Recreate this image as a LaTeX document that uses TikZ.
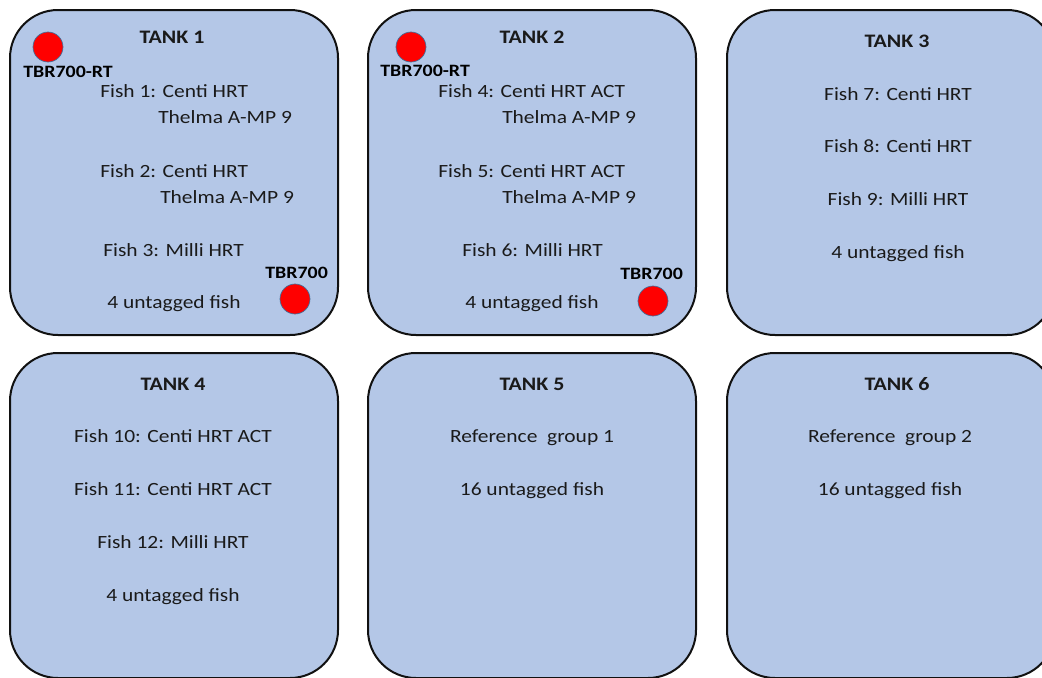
\documentclass[tikz,border=0pt]{standalone}
\usepackage{fontspec}
\setmainfont{Carlito}[FakeStretch=1.15]
\definecolor{tankfill}{HTML}{B4C7E7}
\definecolor{tankline}{HTML}{111111}
\definecolor{txt}{HTML}{1A1A1A}
\definecolor{rxline}{HTML}{41719C}
\tikzset{
  tank/.style={draw=tankline, line width=1.5pt, fill=tankfill, rounded corners=36pt,
    minimum width=246pt, minimum height=243.75pt, inner sep=0pt},
  title/.style={font=\fontsize{14.3}{16}\selectfont\bfseries, text=txt, anchor=base, inner sep=0pt},
  line/.style={font=\fontsize{14}{16}\selectfont, text=txt, anchor=base west, inner sep=0pt},
  cline/.style={font=\fontsize{14}{16}\selectfont, text=txt, anchor=base, inner sep=0pt},
  rxlabel/.style={font=\fontsize{13}{14}\selectfont\bfseries, text=black, anchor=base west, inner sep=0pt},
  receiver/.style={circle, fill=red, draw=rxline, line width=0.5pt, minimum size=22.5pt, inner sep=0pt}
}
\begin{document}
\begin{tikzpicture}[x=0.75pt,y=-0.75pt]
\useasboundingbox (0,0) rectangle (1042,678);
\clip (0,0) rectangle (1042,678);
% tanks
\node[tank] (t1) at (174,172.5) {};
\node[tank] (t2) at (532,172.5) {};
\node[tank] (t3) at (891,172.5) {};
\node[tank] (t4) at (174,515.5) {};
\node[tank] (t5) at (532,515.5) {};
\node[tank] (t6) at (891,515.5) {};
% tank 1
\node[title] (t1h) at (172,43) {TANK 1};
\node[receiver] (r1a) at (48,47) {};
\node[rxlabel] (r1al) at (23,77) {TBR700-RT};
\node[line] (f1) at (100,97) {Fish 1: Centi HRT};
\node[line] (f1b) at (158,123) {Thelma A-MP 9};
\node[line] (f2) at (100,177) {Fish 2: Centi HRT};
\node[line] (f2b) at (160,203) {Thelma A-MP 9};
\node[line] (f3) at (103,256) {Fish 3: Milli HRT};
\node[line] (u1) at (107,308) {4 untagged fish};
\node[rxlabel] (r1bl) at (265,278) {TBR700};
\node[receiver] (r1b) at (295,299) {};
% tank 2
\node[title] (t2h) at (532,43) {TANK 2};
\node[receiver] (r2a) at (411,47) {};
\node[rxlabel] (r2al) at (380,76) {TBR700-RT};
\node[line] (f4) at (438,97) {Fish 4: Centi HRT ACT};
\node[line] (f4b) at (502,123) {Thelma A-MP 9};
\node[line] (f5) at (438,177) {Fish 5: Centi HRT ACT};
\node[line] (f5b) at (502,203) {Thelma A-MP 9};
\node[line] (f6) at (462,256) {Fish 6: Milli HRT};
\node[line] (u2) at (465,308) {4 untagged fish};
\node[rxlabel] (r2bl) at (620,279) {TBR700};
\node[receiver] (r2b) at (653,301) {};
% tank 3
\node[title] (t3h) at (897,47) {TANK 3};
\node[cline] (f7) at (898,100) {Fish 7: Centi HRT};
\node[cline] (f8) at (898,152) {Fish 8: Centi HRT};
\node[cline] (f9) at (898,205) {Fish 9: Milli HRT};
\node[cline] (u3) at (898,258) {4 untagged fish};
% tank 4
\node[title] (t4h) at (173,390) {TANK 4};
\node[cline] (f10) at (173,442) {Fish 10: Centi HRT ACT};
\node[cline] (f11) at (173,495) {Fish 11: Centi HRT ACT};
\node[cline] (f12) at (173,548) {Fish 12: Milli HRT};
\node[cline] (u4) at (173,601) {4 untagged fish};
% tank 5
\node[title] (t5h) at (532,390) {TANK 5};
\node[cline] (g1) at (532,442) {Reference\ \ group 1};
\node[cline] (u5) at (532,495) {16 untagged fish};
% tank 6
\node[title] (t6h) at (897,390) {TANK 6};
\node[cline] (g2) at (890,442) {Reference\ \ group 2};
\node[cline] (u6) at (890,495) {16 untagged fish};
\end{tikzpicture}
\end{document}
